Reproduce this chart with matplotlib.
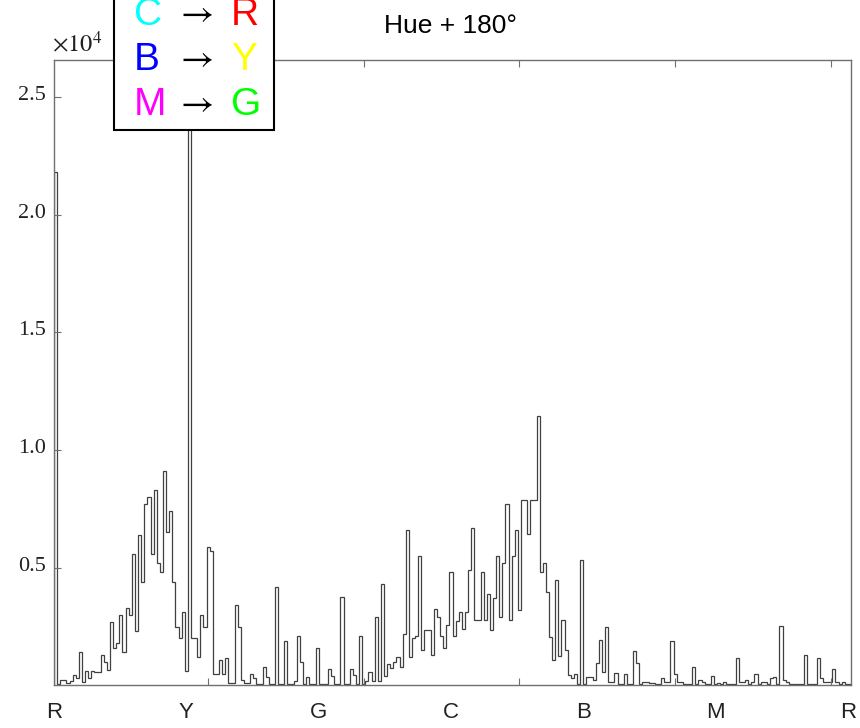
import numpy as np
import matplotlib
matplotlib.use("Agg")
import matplotlib.pyplot as plt
from matplotlib.patches import Rectangle
from matplotlib.transforms import blended_transform_factory, ScaledTranslation

# pixel counts per hue bin (256 bins)
counts = [
    21800, 50, 230, 230, 100, 200, 450, 300, 1400, 150, 600, 300, 600, 550, 550, 1300,
    1000, 650, 2700, 1600, 1800, 3000, 1400, 3300, 3000, 5600, 2300, 6400, 4400, 7700, 8000, 5600,
    8300, 5200, 4800, 9100, 6500, 7400, 4400, 2500, 2000, 3100, 600, 26200, 2000, 2000, 1200, 3000,
    2500, 5900, 5700, 500, 500, 1100, 500, 1150, 100, 100, 3400, 2500, 250, 100, 100, 500,
    300, 50, 50, 800, 350, 50, 50, 4200, 50, 50, 1900, 50, 50, 200, 2100, 1000,
    50, 350, 50, 50, 1600, 50, 50, 50, 700, 400, 50, 50, 3770, 50, 50, 700,
    450, 50, 2100, 50, 200, 580, 200, 2900, 200, 4300, 400, 900, 760, 1000, 1200, 800,
    2200, 6600, 1200, 2000, 2100, 5500, 1500, 2350, 2350, 1300, 3250, 2900, 2100, 1600, 2550, 4800,
    2100, 2750, 3100, 2400, 3100, 4900, 6700, 2800, 2800, 4800, 2800, 3900, 2350, 3700, 5500, 2900,
    5200, 7700, 2800, 5500, 6600, 3200, 7900, 7900, 6450, 7900, 7900, 11450, 4800, 5200, 3950, 2040,
    1080, 4470, 1250, 2780, 1500, 440, 300, 470, 60, 5350, 60, 370, 370, 230, 960, 1930,
    580, 2490, 160, 160, 540, 60, 60, 470, 60, 60, 1460, 960, 60, 160, 160, 100,
    120, 60, 60, 300, 140, 140, 1900, 470, 160, 160, 60, 60, 60, 770, 60, 230,
    160, 60, 60, 410, 60, 100, 60, 160, 60, 60, 60, 1150, 160, 160, 230, 60,
    160, 480, 60, 160, 160, 60, 330, 340, 60, 2520, 230, 160, 60, 60, 60, 60,
    60, 1300, 60, 60, 60, 1150, 330, 160, 160, 160, 680, 160, 60, 160, 60, 60,
]
bin_edges = np.arange(len(counts) + 1) + 0.5

hue_labels = ["R", "Y", "G", "C", "B", "M", "R"]
hue_positions = [0.5, 43.0, 85.5, 128.0, 170.5, 213.0, 255.5]
x_ticks = [50, 100, 150, 200, 250]
y_ticks = [5000, 10000, 15000, 20000, 25000]
y_tick_labels = ["0.5", "1.0", "1.5", "2.0", "2.5"]

swap_from = ["C", "B", "M"]
swap_from_colors = ["#00ffff", "#0000ff", "#ff00ff"]
swap_to = ["R", "Y", "G"]
swap_to_colors = ["#ff0000", "#ffff00", "#00ff00"]

plt.rcParams["mathtext.fontset"] = "stix"

W, H = 860, 728
fig = plt.figure(figsize=(W / 100, H / 100), dpi=100)
ax = fig.add_axes([54 / W, 1 - 685.4 / H, 797 / W, 625.9 / H])

ax.stairs(counts, bin_edges, baseline=0, color="#404040", linewidth=0.9)
ax.set_xlim(0.5, 256.5)
ax.set_ylim(0, 26600)

spine_col = "#707070"
for s in ax.spines.values():
    s.set_color(spine_col)
    s.set_linewidth(1.0)

ax.set_xticks(x_ticks)
ax.set_xticklabels([])
ax.tick_params(axis="x", direction="in", length=5, width=0.8, color=spine_col, top=True, bottom=True)
ax.set_yticks(y_ticks)
ax.set_yticklabels(y_tick_labels, fontfamily="Liberation Serif", fontsize=16, color="#222222")
ax.tick_params(axis="y", direction="in", length=5, width=0.8, color=spine_col, left=True, right=False, pad=6)
up = ScaledTranslation(0, 4 / 100, fig.dpi_scale_trans)
for lbl in ax.get_yticklabels():
    lbl.set_transform(lbl.get_transform() + up)

# hue letters under the axis
trans = blended_transform_factory(ax.transData, ax.transAxes)
for pos, lab in zip(hue_positions, hue_labels):
    ax.text(pos, -0.0425, lab, transform=trans, ha="center", va="center",
            fontsize=16, fontfamily="Liberation Sans", color="#222222")

fig.text(52 / W, 1 - 52 / H, r"$\times10^{4}$", fontsize=17.5, color="#222222", ha="left", va="baseline")
fig.text(450.5 / W, 1 - 33 / H, "Hue + 180°", fontsize=19, fontfamily="Liberation Sans",
         ha="center", va="baseline", color="black")

# swap legend box
fig.add_artist(Rectangle((114 / W, 1 - 130 / H), 160 / W, 0.3, transform=fig.transFigure,
                         facecolor="white", edgecolor="black", linewidth=1.5, zorder=5))
row_base = [25, 70, 115]
for i in range(3):
    yb = 1 - row_base[i] / H
    fig.text(134 / W, yb, swap_from[i], color=swap_from_colors[i], fontsize=28,
             fontfamily="Liberation Sans", ha="left", va="baseline", zorder=6)
    fig.text(194 / W, yb + 3 / H, r"$\rightarrow$", color="black", fontsize=26,
             ha="center", va="baseline", zorder=6)
    fig.text(231 / W, yb, swap_to[i], color=swap_to_colors[i], fontsize=28,
             fontfamily="Liberation Sans", ha="left", va="baseline", zorder=6)

fig.savefig("out.png", dpi=100)
